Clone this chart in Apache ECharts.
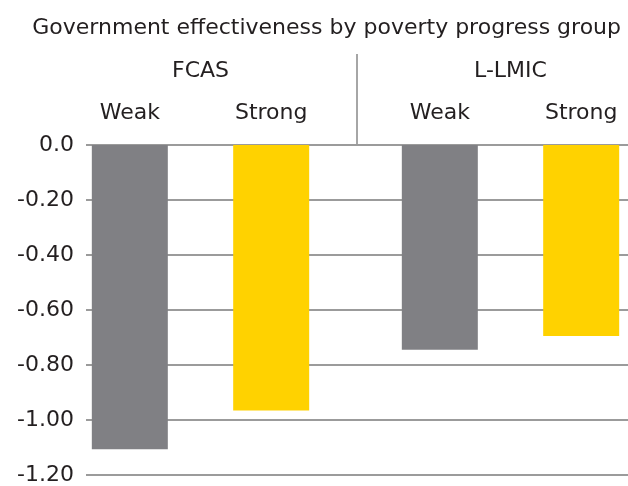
<!DOCTYPE html>
<html>
<head>
<meta charset="utf-8">
<script src="https://cdn.jsdelivr.net/npm/echarts@6/dist/echarts.min.js"></script>
<style>
  html, body { margin: 0; padding: 0; background: #fff; }
  #chart { width: 628px; height: 486px; }
</style>
</head>
<body>
<div id="chart"></div>
<script>
// === Datos ===================================================================
const groups   = ['FCAS', 'L-LMIC'];
const levels   = ['Weak', 'Strong'];
const weak     = [-1.10, -0.74];
const strong   = [-0.96, -0.69];
const yTicks   = ['0.0', '-0.20', '-0.40', '-0.60', '-0.80', '-1.00', '-1.20'];
const title    = 'Government effectiveness by poverty progress group';

// === Paleta ==================================================================
const gray = '#808084', yellow = '#ffd200', line = '#9b9b9b', ink = '#231f20';
const FONT = '"DejaVu Sans", Verdana, sans-serif';

const yMin = -1.2, yMax = 0, yStep = 0.2;
const yLabel = v => yTicks[Math.round((yMax - v) / yStep)] ?? '';

// un grid por grupo (FCAS / L-LMIC) para respetar el espacio entre grupos
const groupGrids = [{ left: 90, width: 221 }, { left: 400, width: 221 }];
const gTop = 145, gHeight = 332;

const grids = [{ left: 86, right: 0, top: gTop, height: gHeight }]
  .concat(groupGrids.map(g => ({ ...g, top: gTop, height: gHeight })));

const xAxes = [{ gridIndex: 0, type: 'category', data: groups, show: false }]
  .concat(groups.map((g, i) => ({
    gridIndex: i + 1, type: 'category', data: [g], position: 'top',
    axisLine: { show: false }, axisTick: { show: false },
    axisLabel: { color: ink, fontSize: 22, margin: 63, fontFamily: FONT }
  })));

const yAxes = [{
  gridIndex: 0, type: 'value', min: yMin, max: yMax, interval: yStep,
  axisLine: { show: false }, axisTick: { show: false },
  axisLabel: { color: ink, fontSize: 22, margin: 12, formatter: yLabel, fontFamily: FONT },
  splitLine: { lineStyle: { color: line, width: 2 } }
}].concat(groups.map((g, i) => ({
  gridIndex: i + 1, type: 'value', min: yMin, max: yMax, interval: yStep,
  show: false, splitLine: { show: false }
})));

const series = [];
groups.forEach((g, i) => {
  [weak, strong].forEach((vals, j) => {
    series.push({
      name: levels[j], type: 'bar', xAxisIndex: i + 1, yAxisIndex: i + 1,
      data: [vals[i]], barWidth: 76, barGap: '86%',
      itemStyle: { color: j === 0 ? gray : yellow },
      label: {
        show: true, position: 'top', distance: 21, formatter: '{a}',
        fontSize: 22, color: ink, fontFamily: FONT
      }
    });
  });
});

const chart = echarts.init(document.getElementById('chart'));

chart.setOption({
  animation: false,
  textStyle: { fontFamily: FONT, color: ink },
  title: {
    text: title, right: 2, top: 12,
    textStyle: { fontFamily: FONT, fontSize: 22, fontWeight: 'normal', color: ink }
  },
  grid: grids,
  xAxis: xAxes,
  yAxis: yAxes,
  series,
  graphic: [
    // separador entre grupos
    { type: 'line', shape: { x1: 357, y1: 54, x2: 357, y2: 145 }, style: { stroke: '#a6a6a6', lineWidth: 2 } }
  ]
});
</script>
</body>
</html>
